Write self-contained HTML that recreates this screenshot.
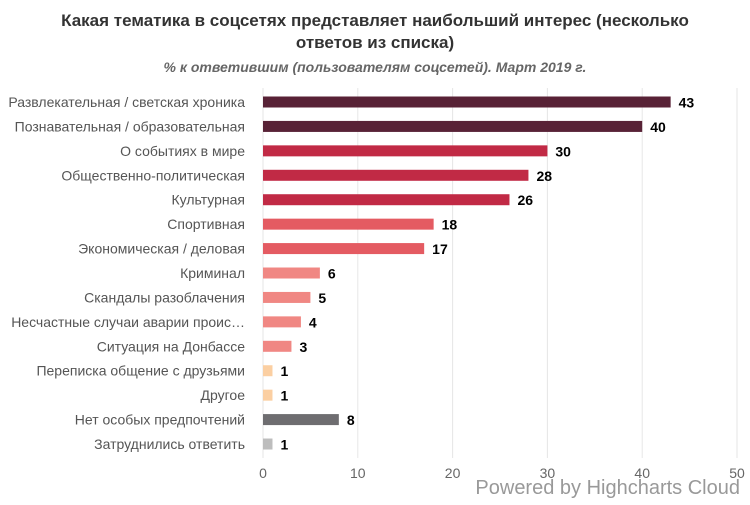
<!DOCTYPE html>
<html><head><meta charset="utf-8"><style>
body{margin:0;background:#fff;font-family:"Liberation Sans",sans-serif}
svg text{font-family:"Liberation Sans",sans-serif}
</style></head><body>
<svg width="750" height="500" xmlns="http://www.w3.org/2000/svg">
<text x="375" y="26" text-anchor="middle" font-size="17" font-weight="bold" fill="#333">Какая тематика в соцсетях представляет наибольший интерес (несколько</text>
<text x="375" y="48" text-anchor="middle" font-size="17" font-weight="bold" fill="#333">ответов из списка)</text>
<text x="375" y="72" text-anchor="middle" font-size="14" font-weight="bold" font-style="italic" fill="#666">% к ответившим (пользователям соцсетей). Март 2019 г.</text>
<g id="grid"></g><g id="bars"></g><g id="labels"></g>
<text x="740" y="494" text-anchor="end" font-size="20" fill="#999">Powered by Highcharts Cloud</text>
</svg>
<script>
const categories=["Развлекательная / светская хроника","Познавательная / образовательная","О событиях в мире","Общественно-политическая","Культурная","Спортивная","Экономическая / деловая","Криминал","Скандалы разоблачения","Несчастные случаи аварии проис…","Ситуация на Донбассе","Переписка общение с друзьями","Другое","Нет особых предпочтений","Затруднились ответить"];
const values=[43,40,30,28,26,18,17,6,5,4,3,1,1,8,1];
const colors=["#582236","#582236","#c12a45","#c12a45","#c12a45","#e45b62","#e45b62","#f08783","#f08783","#f08783","#f08783","#fbcfa2","#fbcfa2","#6e6d70","#bdbdbd"];
const ticks=[0,10,20,30,40,50];
const NS="http://www.w3.org/2000/svg";
const x0=263,x1=737,xMax=50,yTop=102,step=24.43,bh=11;
const xs=v=>x0+(x1-x0)*v/xMax, ys=i=>yTop+i*step;
function mk(t,a,p){const e=document.createElementNS(NS,t);for(const k in a)e.setAttribute(k,a[k]);p.appendChild(e);return e;}
const g=document.getElementById('grid'),b=document.getElementById('bars'),l=document.getElementById('labels');
ticks.forEach(t=>{
 const ln=mk('line',{x1:xs(t),x2:xs(t),y1:88,y2:458,stroke:'#e6e6e6','stroke-width':1},g);
 
 
 const tx=mk('text',{x:xs(t),y:478,'text-anchor':'middle','font-size':14,fill:'#666'},g);tx.textContent=t;
 
 
});
categories.forEach((c,i)=>{
 const y=ys(i);
 const ct=mk('text',{x:245,y:y+5,'text-anchor':'end','font-size':14,fill:'#555'},l);ct.textContent=c;
 
 
 const r=mk('rect',{x:x0,y:y-bh/2,width:xs(values[i])-x0,height:bh,fill:colors[i]},b);
 
 
 const vt=mk('text',{x:xs(values[i])+8,y:y+5.5,'font-size':14,'font-weight':'bold',fill:'#000'},l);vt.textContent=values[i];
 
 
});
</script>
</body></html>
